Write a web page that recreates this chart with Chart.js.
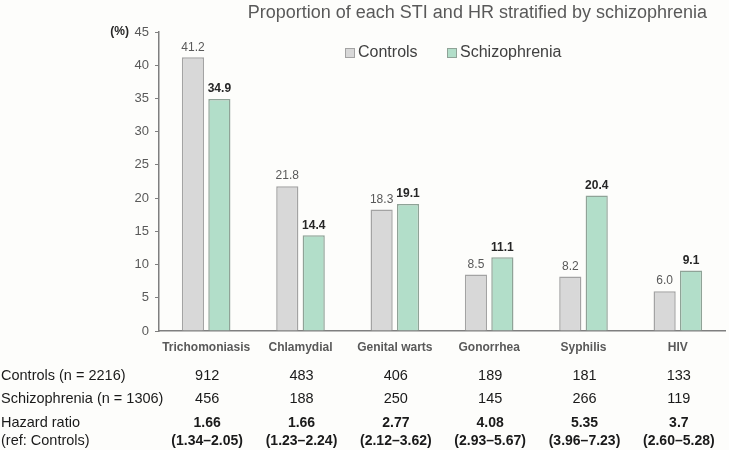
<!DOCTYPE html>
<html><head><meta charset="utf-8">
<script src="https://cdn.jsdelivr.net/npm/chart.js@4/dist/chart.umd.min.js"></script>
<style>html,body{margin:0;padding:0;background:#fdfdfb;}#wrap{width:729px;height:450px;position:relative;}</style>
</head><body><div id="wrap"><canvas id="c" width="729" height="450"></canvas></div>
<script>
const categories = ["Trichomoniasis","Chlamydial","Genital warts","Gonorrhea","Syphilis","HIV"];
const controls = [41.2, 21.8, 18.3, 8.5, 8.2, 6.0];
const schizophrenia = [34.9, 14.4, 19.1, 11.1, 20.4, 9.1];
const yTicks = [0,5,10,15,20,25,30,35,40,45];
const controlCounts = ["912","483","406","189","181","133"];
const schizoCounts = ["456","188","250","145","266","119"];
const hazardRatios = ["1.66","1.66","2.77","4.08","5.35","3.7"];
const hazardCIs = ["(1.34\u20132.05)","(1.23\u20132.24)","(2.12\u20133.62)","(2.93\u20135.67)","(3.96\u20137.23)","(2.60\u20135.28)"];
const rowLabels = ["Controls (n = 2216)","Schizophrenia (n = 1306)","Hazard ratio","(ref: Controls)"];
const titleText = "Proportion of each STI and HR stratified by schizophrenia";
const seriesNames = ["Controls","Schizophrenia"];

const FONT = "'Liberation Sans', Arial, sans-serif";
const fills = ["#d8d8d8","#b2dec9"];
const borders = ["#a3a3a3","#8fa397"];

const extras = {
  id:'extras',
  afterDraw(chart){
    const ctx = chart.ctx, x = chart.scales.x, y = chart.scales.y;
    ctx.save();
    // title
    ctx.fillStyle = "#595959";
    ctx.font = "18px " + FONT;
    ctx.textAlign = "right"; ctx.textBaseline = "middle";
    ctx.fillText(titleText, 707, 13);
    // (%)
    ctx.fillStyle = "#262626";
    ctx.font = "bold 12px " + FONT;
    ctx.textAlign = "right";
    ctx.fillText("(%)", 129, y.getPixelForValue(45));
    // legend
    ctx.font = "16px " + FONT;
    ctx.textAlign = "left";
    const lx = [345, 447];
    seriesNames.forEach((n,i)=>{
      ctx.fillStyle = fills[i]; ctx.strokeStyle = borders[i]; ctx.lineWidth = 1;
      ctx.fillRect(lx[i]+0.5, 48.5, 9, 9); ctx.strokeRect(lx[i]+0.5, 48.5, 9, 9);
      ctx.fillStyle = "#404040";
      ctx.fillText(n, lx[i]+13, 53);
    });
    // data labels
    ctx.textAlign = "center"; ctx.textBaseline = "bottom";
    chart.data.datasets.forEach((ds,di)=>{
      const meta = chart.getDatasetMeta(di);
      meta.data.forEach((bar,i)=>{
        ctx.font = (di===1 ? "bold " : "") + "12px " + FONT;
        ctx.fillStyle = di===1 ? "#262626" : "#595959";
        ctx.fillText(ds.data[i].toFixed(1), bar.x, bar.y - 4);
      });
    });
    // table
    ctx.fillStyle = "#1a1a1a";
    ctx.textBaseline = "middle";
    ctx.font = "14.5px " + FONT;
    ctx.textAlign = "left";
    const rowsY = [376, 399, 423, 441];
    rowLabels.forEach((t,i)=> ctx.fillText(t, 1, rowsY[i]));
    ctx.textAlign = "center";
    categories.forEach((c,i)=>{
      const cx = x.getPixelForValue(i) + 1;
      ctx.font = "14.5px " + FONT;
      ctx.fillText(controlCounts[i], cx, rowsY[0]);
      ctx.fillText(schizoCounts[i], cx, rowsY[1]);
      ctx.font = "bold 14px " + FONT;
      ctx.fillText(hazardRatios[i], cx, rowsY[2]);
      ctx.fillText(hazardCIs[i], cx, rowsY[3]);
    });
    ctx.restore();
  }
};

new Chart(document.getElementById('c'), {
  type:'bar',
  data:{
    labels: categories,
    datasets:[
      {label:seriesNames[0], data:controls, backgroundColor:fills[0], borderColor:borders[0], borderWidth:1.5, borderSkipped:'bottom'},
      {label:seriesNames[1], data:schizophrenia, backgroundColor:fills[1], borderColor:borders[1], borderWidth:1.5, borderSkipped:'bottom'}
    ]
  },
  options:{
    responsive:false, animation:false,
    layout:{padding:{top:32, right:4, left:0, bottom:0}},
    datasets:{bar:{categoryPercentage:0.56, barPercentage:0.84}},
    plugins:{legend:{display:false}, tooltip:{enabled:false}, title:{display:false}},
    scales:{
      x:{
        grid:{display:false, drawTicks:false},
        border:{color:"#7f7f7f", width:1.5},
        ticks:{color:"#595959", font:{family:FONT, size:12, weight:'bold'}, padding:9, maxRotation:0, autoSkip:false},
        afterFit(s){ s.height = 450 - 331; }
      },
      y:{
        min:0, max:45,
        afterBuildTicks(s){ s.ticks = yTicks.map(v=>({value:v})); },
        grid:{drawOnChartArea:false, drawTicks:true, tickLength:4, color:"#7f7f7f"},
        border:{color:"#7f7f7f", width:1.5},
        ticks:{color:"#595959", font:{family:FONT, size:13}, padding:6},
        afterFit(s){ s.width = 159; }
      }
    }
  },
  plugins:[extras]
});
</script></body></html>
